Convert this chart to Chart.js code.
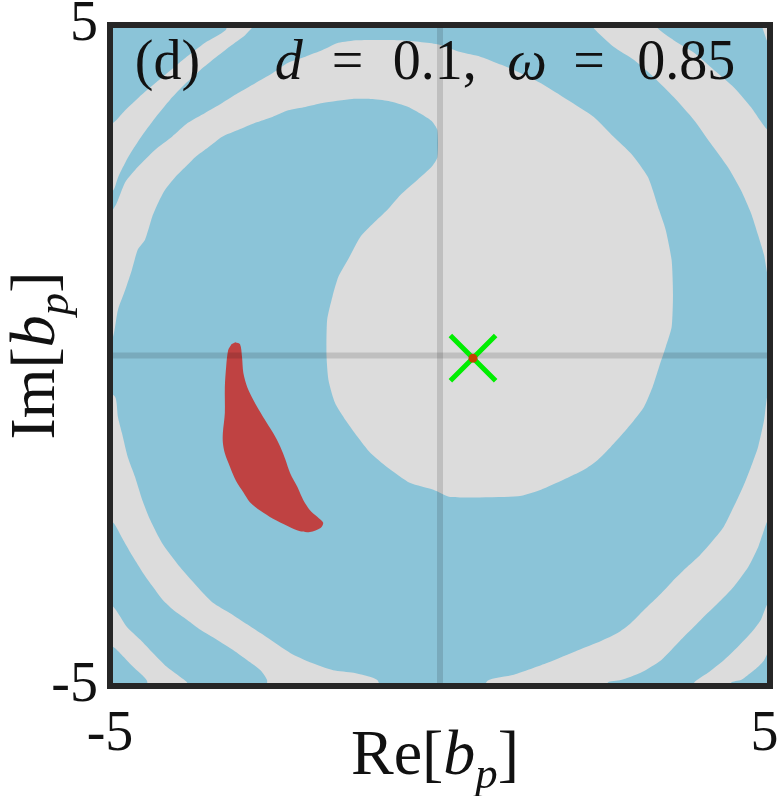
<!DOCTYPE html>
<html>
<head>
<meta charset="utf-8">
<title>Basins of attraction (d)</title>
<script src="https://cdn.jsdelivr.net/npm/chart.js@4.4.1/dist/chart.umd.min.js"></script>
<style>
  html, body { margin: 0; padding: 0; background: #fff; }
  canvas { display: block; }
</style>
</head>
<body>
<canvas id="basinChart" width="780" height="796"></canvas>
<script>
// Axis range and tick labels
const axisMin = -5;
const axisMax = 5;
const tickValues = [-5, 5];
const tickLabels = ['-5', '5'];

// Axis titles: text pieces and their style (roman / italic / subscript)
const xTitleParts = ['Re[', 'b', 'p', ']'];
const yTitleParts = ['Im[', 'b', 'p', ']'];
const titleStyles = ['roman', 'italic', 'sub', 'roman'];

// Panel annotation
const annotParts = ['(d)', 'd', '=', '0.1,', 'ω', '=', '0.85'];
const annotStyles = ['roman', 'italic', 'roman', 'roman', 'italic', 'roman', 'roman'];
const annotCenters = [-4.13, -2.29, -1.40, -0.08, 1.32, 2.26, 3.73]; // Re[b_p] of each piece centre
const annotBaseline = 4.18;

// Grey basin outlines [Re, Im] (blue fills the rest)
const greyMainArm = [
  [-5.15, 1.93], [-4.91, 2.28], [-4.77, 2.62], [-4.58, 2.85], [-4.32, 3.11], [-4.06, 3.31],
  [-3.82, 3.52], [-3.56, 3.67], [-3.30, 3.82], [-3.06, 3.97], [-2.80, 4.12], [-2.54, 4.27],
  [-2.30, 4.43], [-2.04, 4.52], [-1.78, 4.62], [-1.54, 4.73], [-1.25, 4.77], [-0.60, 4.77],
  [-0.04, 4.71], [0.31, 4.59], [0.61, 4.52], [1.12, 4.32], [1.53, 4.12], [1.93, 3.87],
  [2.33, 3.61], [2.63, 3.31], [2.89, 3.06], [3.15, 2.70], [3.32, 2.20], [3.42, 1.90],
  [3.51, 1.44], [3.53, 0.92], [3.51, 0.43], [3.42, 0.13], [3.32, -0.17], [3.22, -0.48],
  [3.09, -0.78], [2.94, -0.98], [2.78, -1.17], [2.59, -1.38], [2.39, -1.58], [2.18, -1.73],
  [1.87, -1.88], [1.53, -2.03], [1.18, -2.13], [0.16, -2.14], [-0.10, -2.03], [-0.45, -1.93],
  [-0.80, -1.69], [-1.05, -1.48], [-1.25, -1.23], [-1.43, -0.98], [-1.59, -0.72], [-1.69, -0.37],
  [-1.72, 0.01], [-1.71, 0.54], [-1.63, 0.89], [-1.54, 1.19], [-1.40, 1.44], [-1.21, 1.79],
  [-1.01, 2.00], [-0.80, 2.20], [-0.60, 2.43], [-0.34, 2.66], [-0.13, 2.85], [-0.04, 3.00],
  [-0.04, 3.41], [-0.13, 3.55], [-0.28, 3.65], [-0.48, 3.76], [-0.78, 3.85], [-1.05, 3.88],
  [-1.33, 3.88], [-1.78, 3.82], [-2.04, 3.76], [-2.30, 3.71], [-2.54, 3.61], [-2.80, 3.52],
  [-3.06, 3.41], [-3.30, 3.31], [-3.51, 3.15], [-3.71, 3.00], [-3.86, 2.85], [-4.01, 2.70],
  [-4.17, 2.50], [-4.27, 2.31], [-4.36, 2.10], [-4.47, 1.75], [-4.58, 1.60], [-4.67, 1.29],
  [-4.77, 0.99], [-4.88, 0.69], [-4.94, 0.34], [-5.02, 0.08], [-5.15, 0.08]
];
const greyTopLeft = [
  [-5.15, 3.47], [-4.95, 3.52], [-4.77, 3.71], [-4.47, 3.99], [-4.17, 4.24], [-3.86, 4.50],
  [-3.56, 4.73], [-3.25, 4.92], [-3.18, 5.10], [-2.75, 5.10], [-2.95, 4.85], [-3.18, 4.68],
  [-3.41, 4.50], [-3.63, 4.32], [-3.86, 4.11], [-4.09, 3.87], [-4.32, 3.59], [-4.54, 3.29],
  [-4.73, 2.99], [-4.88, 2.69], [-4.95, 2.50], [-5.15, 2.38]
];
const greyTopRight = [
  [2.21, 5.15], [2.33, 4.95], [2.63, 4.67], [2.94, 4.47], [3.24, 4.21], [3.54, 3.91],
  [3.85, 3.56], [4.10, 3.21], [4.36, 2.85], [4.56, 2.50], [4.71, 2.16], [4.82, 1.82],
  [4.91, 1.52], [4.97, 1.19], [5.09, 0.92], [5.09, 3.49], [4.97, 3.41], [4.71, 3.76],
  [4.45, 4.06], [4.15, 4.32], [3.85, 4.58], [3.54, 4.77], [3.30, 4.95], [3.22, 5.15]
];
const greyCornerNE = [
  [4.82, 5.15], [5.09, 5.15], [5.09, 4.65], [4.95, 4.77]
];
const greyLowerRight = [
  [5.09, -0.52], [4.97, -0.57], [4.91, -0.98], [4.82, -1.38], [4.71, -1.69], [4.59, -1.99],
  [4.45, -2.29], [4.30, -2.59], [4.10, -2.84], [3.91, -3.05], [3.69, -3.25], [3.50, -3.44],
  [3.30, -3.65], [3.09, -3.85], [2.89, -4.05], [2.69, -4.20], [2.44, -4.32], [2.09, -4.46],
  [1.63, -4.65], [1.12, -4.83], [0.72, -4.92], [0.64, -5.21], [2.53, -5.21], [2.54, -4.95],
  [2.74, -4.91], [3.04, -4.80], [3.35, -4.61], [3.65, -4.30], [3.95, -4.00], [4.26, -3.70],
  [4.45, -3.50], [4.67, -3.20], [4.82, -2.90], [4.91, -2.64], [4.97, -2.49], [5.09, -2.41]
];
const greyCornerSE = [
  [5.09, -3.67], [4.97, -3.74], [4.86, -4.00], [4.71, -4.20], [4.51, -4.41], [4.30, -4.61],
  [4.06, -4.80], [3.85, -4.95], [3.77, -5.21], [4.41, -5.21], [4.41, -4.95], [4.56, -4.91],
  [4.71, -4.80], [4.82, -4.71], [4.91, -4.61], [4.97, -4.50], [5.09, -4.46]
];
const greyLowerLeft = [
  [-5.15, -0.45], [-4.92, -0.63], [-4.88, -0.93], [-4.82, -1.17], [-4.73, -1.54], [-4.62, -1.84],
  [-4.51, -2.19], [-4.39, -2.49], [-4.21, -2.84], [-3.94, -3.20], [-3.63, -3.55], [-3.44, -3.74],
  [-3.18, -3.90], [-2.72, -4.20], [-2.27, -4.50], [-1.97, -4.64], [-1.62, -4.76], [-1.31, -4.80],
  [-0.95, -4.91], [-0.90, -5.21], [-2.62, -5.21], [-2.62, -4.91], [-2.72, -4.76], [-2.92, -4.61],
  [-3.13, -4.46], [-3.38, -4.30], [-3.63, -4.15], [-3.83, -4.00], [-4.04, -3.85], [-4.20, -3.70],
  [-4.35, -3.50], [-4.50, -3.29], [-4.65, -3.05], [-4.80, -2.79], [-4.95, -2.53], [-5.15, -2.46]
];
const greyCornerSW = [
  [-5.15, -3.70], [-4.95, -3.80], [-4.74, -4.11], [-4.54, -4.30], [-4.35, -4.50], [-4.14, -4.71],
  [-3.94, -4.86], [-3.83, -4.95], [-3.79, -5.21], [-4.42, -5.21], [-4.44, -4.92], [-4.65, -4.71],
  [-4.85, -4.50], [-4.95, -4.41], [-5.15, -4.38]
];

// Red basin patch
const redPatch = [
  [-3.10, 0.20], [-3.03, 0.17], [-3.00, -0.02], [-2.98, -0.26], [-2.92, -0.48], [-2.83, -0.67],
  [-2.68, -0.93], [-2.53, -1.17], [-2.42, -1.38], [-2.34, -1.58], [-2.27, -1.78], [-2.16, -1.99],
  [-2.07, -2.19], [-1.97, -2.34], [-1.86, -2.44], [-1.77, -2.53], [-1.81, -2.61], [-1.97, -2.67],
  [-2.12, -2.66], [-2.31, -2.58], [-2.53, -2.47], [-2.72, -2.35], [-2.88, -2.22], [-2.98, -2.07],
  [-3.09, -1.90], [-3.18, -1.69], [-3.26, -1.48], [-3.29, -1.32], [-3.29, -1.17], [-3.26, -0.87],
  [-3.26, -0.48], [-3.24, -0.17], [-3.21, 0.08], [-3.16, 0.17]
];

// Attractor position
const attractor = [0.5, -0.04];

const COLORS = {
  blue: '#8bc4d8',
  grey: '#dcdcdc',
  red: '#bf4242',
  cross: '#00ee00',
  dot: '#c44000',
  zero: 'rgba(0, 0, 0, 0.13)',
  frame: '#262626',
  text: '#111111'
};
const SERIF = '"Liberation Serif", "Times New Roman", serif';

const toPoints = arr => arr.map(p => ({ x: p[0], y: p[1] }));

const shapeDataset = (pts, color, order, tension) => ({
  type: 'line',
  data: toPoints(pts),
  fill: 'shape',
  backgroundColor: color,
  borderColor: color,
  borderWidth: 0,
  pointRadius: 0,
  tension: tension,
  order: order
});

const greyShapes = [greyMainArm, greyTopLeft, greyTopRight, greyCornerNE,
  greyLowerRight, greyCornerSE, greyLowerLeft, greyCornerSW];

const datasets = greyShapes.map(s => shapeDataset(s, COLORS.grey, 10, 0.2));
datasets.push(shapeDataset(redPatch, COLORS.red, 8, 0.3));

// Zero lines (translucent, drawn above the basins)
datasets.push({
  type: 'line',
  data: [{ x: axisMin, y: 0 }, { x: axisMax, y: 0 }],
  borderColor: COLORS.zero, borderWidth: 6, pointRadius: 0, fill: false, order: 5
});
datasets.push({
  type: 'line',
  data: [{ x: 0, y: axisMin }, { x: 0, y: axisMax }],
  borderColor: COLORS.zero, borderWidth: 6, pointRadius: 0, fill: false, order: 4
});

// Attractor marker
datasets.push({
  type: 'line', showLine: false,
  data: [{ x: attractor[0], y: attractor[1] }],
  pointStyle: 'crossRot', pointRadius: 32, borderColor: COLORS.cross, borderWidth: 5,
  order: 2
});
datasets.push({
  type: 'line', showLine: false,
  data: [{ x: attractor[0], y: attractor[1] }],
  pointStyle: 'circle', pointRadius: 4.5, backgroundColor: COLORS.dot, borderWidth: 0,
  order: 1
});

// Draw mixed roman / italic / subscript text
function drawMath(ctx, parts, styles, cx, baseline, size) {
  const fontFor = s => (s === 'roman' ? '' : 'italic ') + (s === 'sub' ? size * 0.7 : size) + 'px ' + SERIF;
  const widths = parts.map((t, i) => { ctx.font = fontFor(styles[i]); return ctx.measureText(t).width; });
  const total = widths.reduce((a, b) => a + b, 0);
  let x = cx - total / 2;
  parts.forEach((t, i) => {
    ctx.font = fontFor(styles[i]);
    ctx.fillText(t, x, baseline + (styles[i] === 'sub' ? size * 0.22 : 0));
    x += widths[i];
  });
}

const basinDecor = {
  id: 'basinDecor',
  beforeDatasetsDraw(chart) {
    const { ctx, chartArea: a } = chart;
    ctx.save();
    ctx.fillStyle = COLORS.blue;
    ctx.fillRect(a.left, a.top, a.right - a.left, a.bottom - a.top);
    ctx.restore();
  },
  afterDatasetsDraw(chart) {
    const { ctx, chartArea: a, scales } = chart;
    ctx.save();
    // frame
    ctx.strokeStyle = COLORS.frame;
    ctx.lineWidth = 6;
    ctx.strokeRect(a.left, a.top, a.right - a.left, a.bottom - a.top);

    ctx.fillStyle = COLORS.text;
    ctx.textBaseline = 'alphabetic';
    ctx.textAlign = 'left';

    // panel annotation
    const base = scales.y.getPixelForValue(annotBaseline);
    annotParts.forEach((t, i) => {
      drawMath(ctx, [t], [annotStyles[i]], scales.x.getPixelForValue(annotCenters[i]), base, 56);
    });

    // axis titles
    drawMath(ctx, xTitleParts, titleStyles, (a.left + a.right) / 2 - 5, 774, 64);
    ctx.translate(54, (a.top + a.bottom) / 2);
    ctx.rotate(-Math.PI / 2);
    drawMath(ctx, yTitleParts, titleStyles, 0, 0, 64);
    ctx.restore();
  }
};

const tickFont = { family: SERIF, size: 56 };

new Chart(document.getElementById('basinChart'), {
  type: 'line',
  data: { datasets: datasets },
  options: {
    responsive: false,
    animation: false,
    devicePixelRatio: 1,
    events: [],
    layout: { autoPadding: false, padding: { top: 25, right: 10, left: 0, bottom: 0 } },
    plugins: {
      legend: { display: false },
      tooltip: { enabled: false }
    },
    scales: {
      x: {
        type: 'linear',
        min: axisMin,
        max: axisMax,
        grid: { display: false, drawTicks: false },
        border: { display: false },
        afterBuildTicks: scale => { scale.ticks = tickValues.map(v => ({ value: v })); },
        afterFit: scale => { scale.height = 110; scale.paddingLeft = 0; scale.paddingRight = 0; },
        ticks: {
          autoSkip: false,
          maxRotation: 0,
          padding: 16,
          color: COLORS.text,
          font: tickFont,
          // the last label sits against the canvas edge, nudge it inwards
          callback: (v, i) => tickLabels[i] + (i === tickLabels.length - 1 ? '\u2009' : '')
        }
      },
      y: {
        type: 'linear',
        min: axisMin,
        max: axisMax,
        grid: { display: false, drawTicks: false },
        border: { display: false },
        afterBuildTicks: scale => { scale.ticks = tickValues.map(v => ({ value: v })); },
        afterFit: scale => { scale.width = 110; scale.paddingTop = 0; scale.paddingBottom = 0; },
        ticks: {
          autoSkip: false,
          padding: 12,
          color: COLORS.text,
          font: tickFont,
          callback: (v, i) => tickLabels[i]
        }
      }
    }
  },
  plugins: [basinDecor]
});
</script>
</body>
</html>
